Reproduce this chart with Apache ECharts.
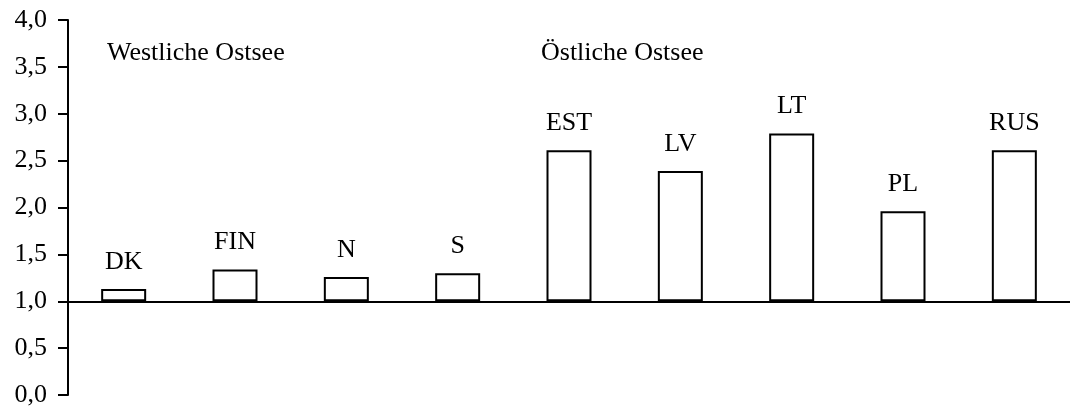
<!DOCTYPE html>
<html>
<head>
<meta charset="utf-8">
<script src="https://cdn.jsdelivr.net/npm/echarts@6/dist/echarts.min.js"></script>
<style>
  html, body { margin: 0; padding: 0; background: #fff; }
  #chart { width: 1070px; height: 412px; }
</style>
</head>
<body>
<div id="chart"></div>
<script>
// data
var categories = ["DK", "FIN", "N", "S", "EST", "LV", "LT", "PL", "RUS"];
var values = [1.13, 1.34, 1.26, 1.30, 2.61, 2.39, 2.79, 1.96, 2.61];
var baseline = 1.0;
var groupTitles = ["Westliche Ostsee", "Östliche Ostsee"];

var FONT = "Liberation Serif";
var FS = 26;

var chart = echarts.init(document.getElementById("chart"));

// bars start at 1,0: invisible base + visible part stacked on top
var baseData = categories.map(function () { return baseline; });
var diffData = values.map(function (v) { return +(v - baseline).toFixed(3); });

var option = {
  animation: false,
  textStyle: { fontFamily: FONT, color: "#000" },
  grid: { left: 68, right: 0, top: 20, bottom: 17, containLabel: false },
  xAxis: {
    type: "category",
    data: categories,
    axisLine: { show: false },
    axisTick: { show: false },
    axisLabel: { show: false },
  },
  yAxis: {
    type: "value",
    min: 0,
    max: 4,
    interval: 0.5,
    axisLine: { show: true, lineStyle: { color: "#000", width: 2 } },
    axisTick: { show: true, inside: false, length: 10, lineStyle: { color: "#000", width: 2 } },
    axisLabel: {
      margin: 21,
      fontFamily: FONT,
      fontSize: FS,
      color: "#000",
      formatter: function (v) { return v.toFixed(1).replace(".", ","); },
    },
    splitLine: { show: false },
  },
  series: [
    {
      name: "base",
      type: "bar",
      stack: "s",
      barWidth: 45,
      silent: true,
      itemStyle: { color: "transparent" },
      data: baseData,
      markLine: {
        silent: true,
        symbol: "none",
        label: { show: false },
        lineStyle: { color: "#000", width: 2, type: "solid" },
        data: [{ yAxis: baseline }],
      },
    },
    {
      name: "wert",
      type: "bar",
      stack: "s",
      barWidth: 45,
      itemStyle: { color: "#fff", borderColor: "#000", borderWidth: 2 },
      label: {
        show: true,
        position: "top",
        distance: 14,
        fontFamily: FONT,
        fontSize: FS,
        color: "#000",
        formatter: function (p) { return categories[p.dataIndex]; },
      },
      data: diffData,
    },
  ],
  graphic: [
    {
      type: "text",
      left: 107,
      top: 40,
      style: { text: groupTitles[0], font: FS + "px " + FONT, fill: "#000" },
    },
    {
      type: "text",
      left: 541,
      top: 40,
      style: { text: groupTitles[1], font: FS + "px " + FONT, fill: "#000" },
    },
  ],
};

chart.setOption(option);
</script>
</body>
</html>
